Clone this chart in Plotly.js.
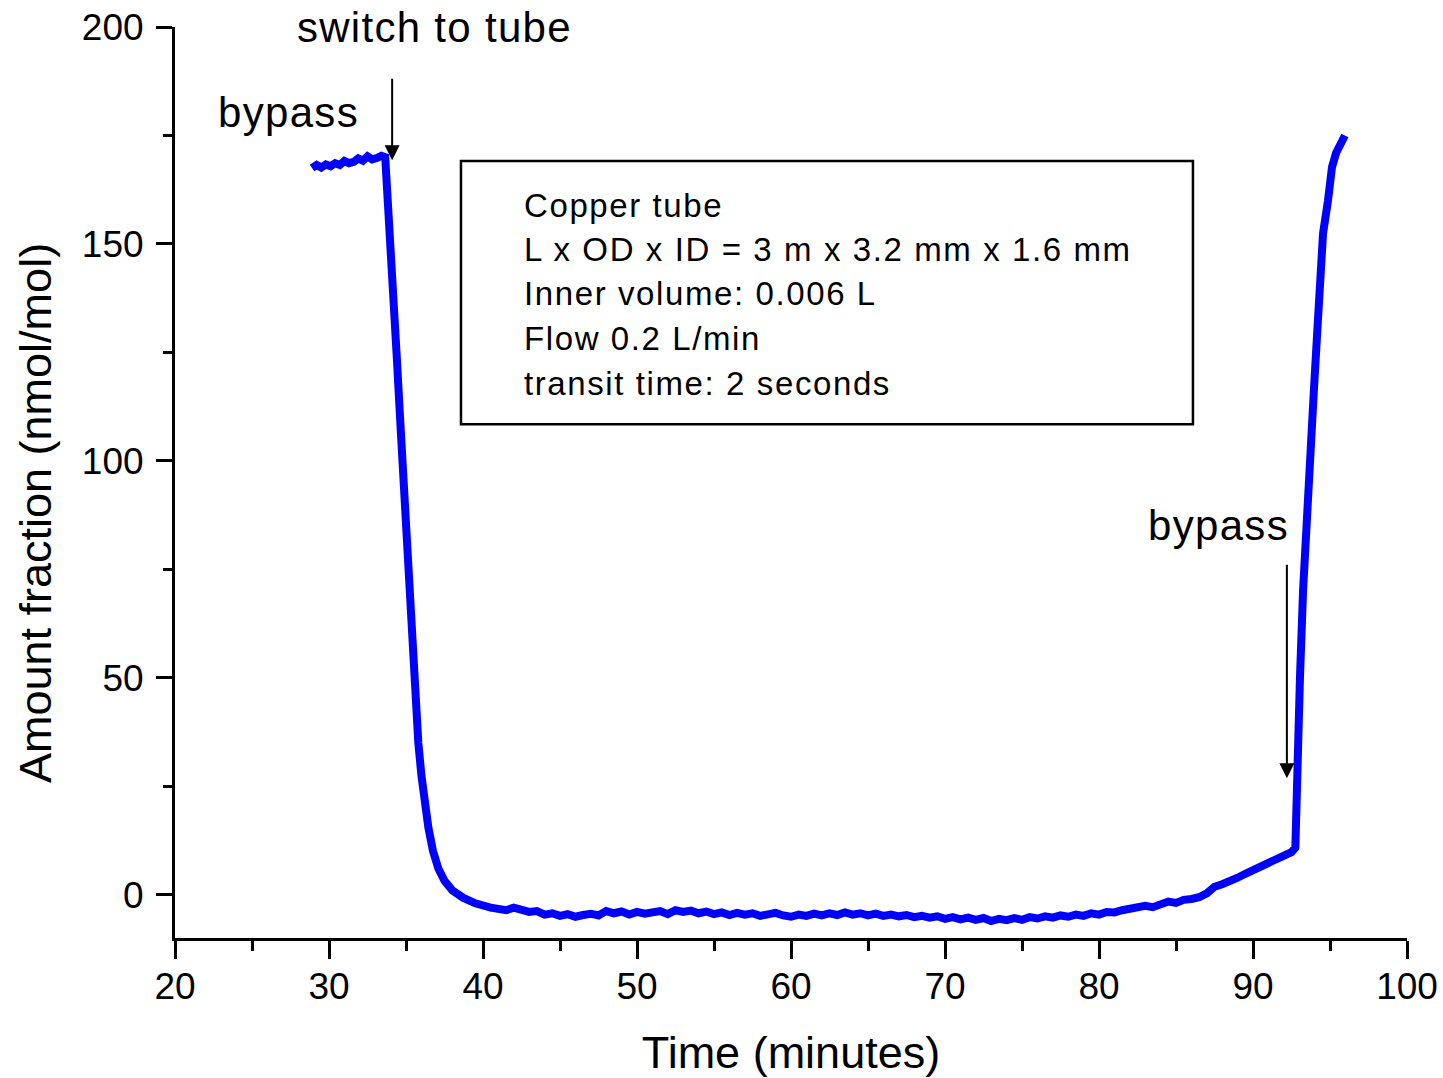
<!DOCTYPE html>
<html>
<head>
<meta charset="utf-8">
<script src="https://cdn.plot.ly/plotly-3.0.1.min.js"></script>
<style>
html,body{margin:0;padding:0;background:#fff;}
#chart{width:1443px;height:1078px;}
g.annotation[data-index="0"] text, g.annotation[data-index="1"] text, g.annotation[data-index="2"] text{letter-spacing:1.3px;}
g.annotation[data-index="5"] text, g.annotation[data-index="6"] text, g.annotation[data-index="7"] text,
g.annotation[data-index="8"] text, g.annotation[data-index="9"] text{letter-spacing:1.6px;}
</style>
</head>
<body>
<div id="chart"></div>
<script>
// Time (minutes)
const timePlateau = [28.9,29.2,29.5,29.8,30.1,30.4,30.7,31.0,31.3,31.6,31.9,32.2,32.5,32.8,33.1,33.4,33.65];
const valuePlateau = [167.5,168.2,167.6,168.3,167.9,168.6,168.2,169.1,168.6,168.9,169.7,169.2,170.2,169.5,169.8,170.3,170.0];

const timeDrop = [33.8,34.0,34.2,34.4,34.66,34.9,35.1,35.3,35.45,35.6,35.8,36.0,36.2,36.45,36.75,37.1,37.5,38.0,38.7,39.5,40.5];
const valueDrop = [162,149,137.5,124,107,91,77,63,53,44.8,35,27.5,21.7,15.5,10.1,6,3.2,1.0,-0.7,-2.0,-3.0];

const timeBase = [41.0,41.5,42.0,42.5,43.0,43.5,44.0,44.5,45.0,45.5,46.0,46.5,47.0,47.5,48.0,48.5,49.0,49.5,50.0,50.5,
  51.0,51.5,52.0,52.5,53.0,53.5,54.0,54.5,55.0,55.5,56.0,56.5,57.0,57.5,58.0,58.5,59.0,59.5,60.0,60.5,
  61.0,61.5,62.0,62.5,63.0,63.5,64.0,64.5,65.0,65.5,66.0,66.5,67.0,67.5,68.0,68.5,69.0,69.5,70.0,70.5,
  71.0,71.5,72.0,72.5,73.0,73.5,74.0,74.5,75.0,75.5,76.0,76.5,77.0,77.5,78.0,78.5,79.0,79.5,80.0,80.5,
  81.0,81.5,82.0,82.5,83.0,83.5,84.0,84.5,85.0,85.5,86.0,86.5,87.0,87.5,88.0,88.5,89.0,89.5,90.0,90.5,
  91.0,91.5,92.0,92.5,92.75];
const valueBase = [-3.2,-3.6,-3.0,-3.4,-4.0,-3.8,-4.6,-4.3,-4.9,-4.5,-5.1,-4.7,-4.4,-4.8,-3.8,-4.3,-3.9,-4.6,-4.0,-4.4,
  -4.2,-3.8,-4.5,-3.6,-4.0,-3.7,-4.3,-3.9,-4.5,-4.1,-4.7,-4.2,-4.6,-4.3,-4.9,-4.5,-4.2,-4.8,-5.1,-4.6,
  -4.9,-4.4,-4.8,-4.3,-4.7,-4.1,-4.6,-4.3,-4.8,-4.4,-4.9,-4.6,-5.0,-4.7,-5.2,-4.9,-5.3,-5.0,-5.6,-5.2,
  -5.7,-5.3,-5.8,-5.4,-6.1,-5.6,-5.9,-5.4,-5.8,-5.2,-5.5,-5.0,-5.3,-4.8,-5.1,-4.6,-4.9,-4.3,-4.6,-4.0,
  -4.1,-3.6,-3.4,-3.0,-2.6,-2.9,-2.2,-1.6,-1.9,-1.2,-1.0,-0.6,0.3,1.8,2.4,3.0,3.9,4.8,5.6,6.5,
  7.2,8.1,8.9,9.8,10.8];

const timeRise = [92.8,92.9,93.05,93.25,93.5,93.75,93.95,94.16,94.35,94.55,94.87,95.13,95.4,95.65,95.97];
const valueRise = [20,38,50,70,90,105,116,129,144,152.5,160,167.7,171,173,175];

const time = timePlateau.concat(timeDrop, timeBase, timeRise);
const amount = valuePlateau.concat(valueDrop, valueBase, valueRise);

const xTicks = [20,30,40,50,60,70,80,90,100];
const yTicks = [0,50,100,150,200];

const boxLines = ["Copper tube","L x OD x ID = 3 m x 3.2 mm x 1.6 mm","Inner volume: 0.006 L","Flow 0.2 L/min","transit time: 2 seconds"];
const boxLineY = [158.8,148.6,138.6,128.2,117.8];

const FONT = "Arial, 'Liberation Sans', sans-serif";

const trace = {
  x: time, y: amount, type: 'scatter', mode: 'lines',
  line: {color: '#0000ff', width: 8},
  hoverinfo: 'skip'
};

const annotations = [
  {x: 36.88, y: 199.8, xref: 'x', yref: 'y', text: 'switch to tube', showarrow: false,
   font: {size: 42, family: FONT, color: '#000'}, xanchor: 'center', yanchor: 'middle'},
  {x: 27.34, y: 180.4, xref: 'x', yref: 'y', text: 'bypass', showarrow: false,
   font: {size: 42, family: FONT, color: '#000'}, xanchor: 'center', yanchor: 'middle'},
  {x: 87.73, y: 85.1, xref: 'x', yref: 'y', text: 'bypass', showarrow: false,
   font: {size: 42, family: FONT, color: '#000'}, xanchor: 'center', yanchor: 'middle'},
  {x: 34.1, y: 169.3, xref: 'x', yref: 'y', text: '', showarrow: true, ax: 0, ay: -83,
   arrowhead: 2, arrowsize: 1.5, arrowwidth: 2, arrowcolor: '#000'},
  {x: 92.2, y: 26.8, xref: 'x', yref: 'y', text: '', showarrow: true, ax: 0, ay: -215,
   arrowhead: 2, arrowsize: 1.5, arrowwidth: 2, arrowcolor: '#000'}
];
boxLines.forEach(function (t, i) {
  annotations.push({x: 42.55, y: boxLineY[i], xref: 'x', yref: 'y', text: t, showarrow: false,
    align: 'left', xanchor: 'left', yanchor: 'middle',
    font: {size: 33, family: FONT, color: '#000'}});
});
annotations.push({x: -0.1136, y: 0.4665, xref: 'paper', yref: 'paper', text: 'Amount fraction (nmol/mol)',
  showarrow: false, textangle: -90, xanchor: 'center', yanchor: 'middle',
  font: {size: 45, family: FONT, color: '#000'}});

const layout = {
  width: 1443, height: 1078,
  margin: {l: 175, r: 36, t: 27, b: 140},
  paper_bgcolor: '#fff', plot_bgcolor: '#fff',
  showlegend: false,
  font: {family: FONT, color: '#000'},
  xaxis: {
    range: [20, 100], tickvals: xTicks, ticktext: xTicks.map(String),
    showgrid: false, zeroline: false, showline: true, linecolor: '#000', linewidth: 3,
    ticks: 'outside', ticklen: 18, tickwidth: 3, tickcolor: '#000',
    minor: {dtick: 5, ticks: 'outside', ticklen: 10, tickwidth: 3, tickcolor: '#000'},
    tickfont: {size: 37, family: FONT, color: '#000'},
    ticklabelstandoff: -4,
    title: {text: 'Time (minutes)', font: {size: 45, family: FONT, color: '#000'}, standoff: 33}
  },
  yaxis: {
    range: [-10, 200], tickvals: yTicks, ticktext: yTicks.map(String),
    showgrid: false, zeroline: false, showline: true, linecolor: '#000', linewidth: 3,
    ticks: 'outside', ticklen: 16, tickwidth: 3, tickcolor: '#000',
    minor: {dtick: 25, ticks: 'outside', ticklen: 9, tickwidth: 3, tickcolor: '#000'},
    tickfont: {size: 37, family: FONT, color: '#000'},
    ticklabelstandoff: 5
  },
  shapes: [
    {type: 'rect', xref: 'x', yref: 'y', x0: 38.57, x1: 86.1, y0: 108.4, y1: 169.1,
     line: {color: '#000', width: 2.5}, fillcolor: 'rgba(0,0,0,0)'}
  ],
  annotations: annotations
};

Plotly.newPlot('chart', [trace], layout, {staticPlot: true, displayModeBar: false});
</script>
</body>
</html>
